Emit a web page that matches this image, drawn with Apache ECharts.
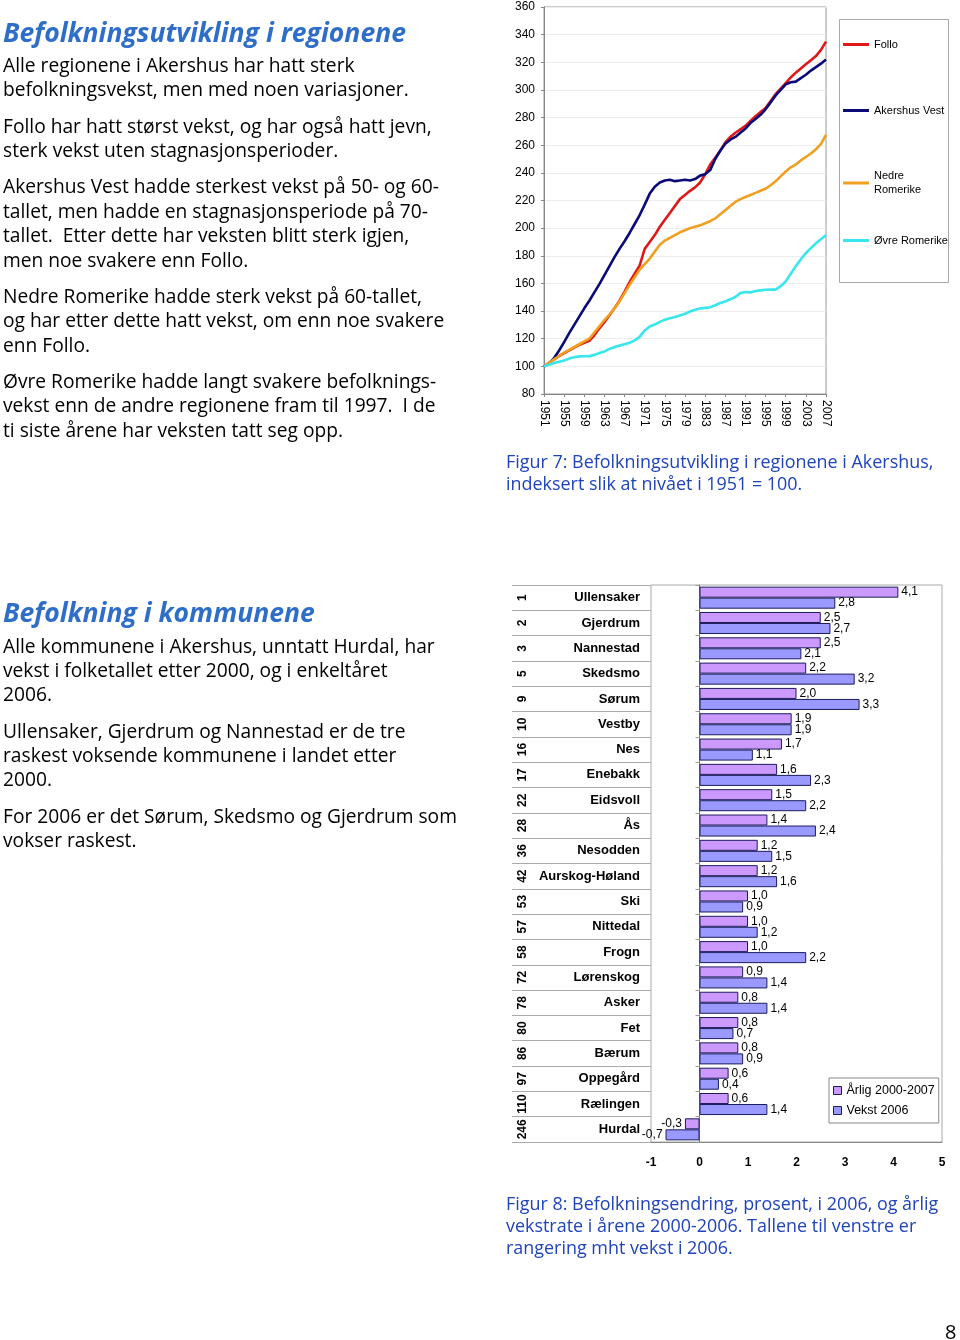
<!DOCTYPE html>
<html><head><meta charset="utf-8">
<script src="https://cdn.jsdelivr.net/npm/echarts@6/dist/echarts.min.js"></script>
<style>
html,body{margin:0;padding:0;background:#fff;}
#page{position:relative;width:960px;height:1340px;overflow:hidden;}
#chart{position:absolute;left:0;top:0;width:960px;height:1340px;}
.t{position:absolute;white-space:pre;line-height:normal;z-index:2;}
</style></head>
<body><div id="page"><div id="chart"></div></div>
<script>
// ---------- Figure 7 data ----------
const years = ["1951","1952","1953","1954","1955","1956","1957","1958","1959","1960",
"1961","1962","1963","1964","1965","1966","1967","1968","1969","1970",
"1971","1972","1973","1974","1975","1976","1977","1978","1979","1980",
"1981","1982","1983","1984","1985","1986","1987","1988","1989","1990",
"1991","1992","1993","1994","1995","1996","1997","1998","1999","2000",
"2001","2002","2003","2004","2005","2006","2007"];
const regionNames = ["Follo","Akershus Vest","Nedre Romerike","Øvre Romerike"];
const follo = [100,102.5,105,107.5,109.5,111.5,113.5,115.5,117,118.5,
122.5,127.5,132,137,142,147.5,154,161,167,173,
185,190,195,201,206,211,216,221,224,227,
229.5,233,239,246,251,256,262,266,269,271.5,
274,277.5,281,284,287,292,297,301,305,309,
312.5,315.5,318.5,321.5,324.5,329,335];
const akershusVest = [100,102,106,111.5,117.5,124,130,136,142,147.5,
153.5,159.5,166,172.5,179,185,190.5,196.5,203,209.5,
217,225,230,233,234.5,235,234,234.5,235,234.5,
235.5,238,239,242,250,256,261,264,266,269,
272,276,279,282,286,291,296,300,304,305.5,
306,308.5,311,314,316.5,319,322];
const nedreRomerike = [100,102.5,105,107.5,110,112,114,116,118,120,
124.5,129,133.5,137.5,142,147,153,159,164.5,170,
174,178,183,188,191,193,195,197,198.5,200,
201,202,203.5,205,207,210,213,216,219,221,
222.5,224,225.5,227,228.5,231,234,237.5,241,244,
246,249,251.5,254,257,261,267.5];
const ovreRomerike = [100,101.2,102.4,103.3,104.3,105.6,106.6,107.2,107.3,107.4,
108.3,109.6,110.8,112.6,114,115,116,117,118.8,121.3,
126,128.8,130.3,132.2,133.8,134.8,135.7,136.8,138,139.7,
141,141.8,142.3,142.8,144.2,145.8,147,148.5,150.2,153,
153.8,153.5,154.5,155,155.4,155.6,155.5,158,161.5,167,
172.5,177.5,182,185.5,189,192,195];

// ---------- Figure 8 data ----------
const kommuner = ["Ullensaker","Gjerdrum","Nannestad","Skedsmo","Sørum","Vestby","Nes","Enebakk","Eidsvoll","Ås","Nesodden","Aurskog-Høland","Ski","Nittedal","Frogn","Lørenskog","Asker","Fet","Bærum","Oppegård","Rælingen","Hurdal"];
const rangering = ["1","2","3","5","9","10","16","17","22","28","36","42","53","57","58","72","78","80","86","97","110","246"];
const aarlig = [4.1,2.5,2.5,2.2,2.0,1.9,1.7,1.6,1.5,1.4,1.2,1.2,1.0,1.0,1.0,0.9,0.8,0.8,0.8,0.6,0.6,-0.3];
const vekst2006 = [2.8,2.7,2.1,3.2,3.3,1.9,1.1,2.3,2.2,2.4,1.5,1.6,0.9,1.2,2.2,1.4,1.4,0.7,0.9,0.4,1.4,-0.7];
const barSeriesNames = ["Årlig 2000-2007","Vekst 2006"];

// ---------- Text ----------
const BODY = '"Open Sans", sans-serif';
const intro = [
 ["Alle regionene i Akershus har hatt sterk",72],
 ["befolkningsvekst, men med noen variasjoner.",96],
 ["Follo har hatt størst vekst, og har også hatt jevn,",133],
 ["sterk vekst uten stagnasjonsperioder.",157],
 ["Akershus Vest hadde sterkest vekst på 50- og 60-",193],
 ["tallet, men hadde en stagnasjonsperiode på 70-",218],
 ["tallet.  Etter dette har veksten blitt sterk igjen,",242],
 ["men noe svakere enn Follo.",267],
 ["Nedre Romerike hadde sterk vekst på 60-tallet,",303],
 ["og har etter dette hatt vekst, om enn noe svakere",327],
 ["enn Follo.",352],
 ["Øvre Romerike hadde langt svakere befolknings-",388],
 ["vekst enn de andre regionene fram til 1997.  I de",412],
 ["ti siste årene har veksten tatt seg opp.",437],
 ["Alle kommunene i Akershus, unntatt Hurdal, har",653],
 ["vekst i folketallet etter 2000, og i enkeltåret",677],
 ["2006.",701],
 ["Ullensaker, Gjerdrum og Nannestad er de tre",738],
 ["raskest voksende kommunene i landet etter",762],
 ["2000.",786],
 ["For 2006 er det Sørum, Skedsmo og Gjerdrum som",823],
 ["vokser raskest.",847]
];
const titles = [["Befolkningsutvikling i regionene",42],["Befolkning i kommunene",622]];
const captions = [
 ["Figur 7: Befolkningsutvikling i regionene i Akershus,",468],
 ["indeksert slik at nivået i 1951 = 100.",490],
 ["Figur 8: Befolkningsendring, prosent, i 2006, og årlig",1210],
 ["vekstrate i årene 2000-2006. Tallene til venstre er",1232],
 ["rangering mht vekst i 2006.",1254]
];

const ctx = document.createElement('canvas').getContext('2d');
function fitSize(samples, family, weight, style){
  ctx.font = style+' '+weight+' 100px '+family;
  let m=0,t=0; samples.forEach(s=>{m+=ctx.measureText(s[0]).width;t+=s[1];});
  return 100*t/m;
}
function place(text,x,baseline,size,family,weight,style,color){
  ctx.font = style+' '+weight+' '+size+'px '+family;
  const mt = ctx.measureText(text);
  const asc = mt.fontBoundingBoxAscent || size*0.95;
  const d=document.createElement('div'); d.className='t'; d.textContent=text;
  d.style.cssText += 'left:'+x+'px;top:'+(baseline-asc)+'px;font-size:'+size+'px;font-family:'+family+';font-weight:'+weight+';font-style:'+style+';color:'+color+';';
  document.getElementById('page').appendChild(d);
}
const bodySize = fitSize([["Alle regionene i Akershus har hatt sterk",355],["og har etter dette hatt vekst, om enn noe svakere",448],["For 2006 er det Sørum, Skedsmo og Gjerdrum som",450],["Alle kommunene i Akershus, unntatt Hurdal, har",427]],BODY,'normal','normal');
intro.forEach(l=>place(l[0],3,l[1],bodySize,BODY,'normal','normal','#000'));
const titleSize = fitSize([["Befolkningsutvikling i regionene",405],["Befolkning i kommunene",310]],BODY,'bold','italic');
titles.forEach(l=>place(l[0],3,l[1],titleSize,BODY,'bold','italic','#2e6ec8'));
const capSize = fitSize([["Figur 7: Befolkningsutvikling i regionene i Akershus,",424],["Figur 8: Befolkningsendring, prosent, i 2006, og årlig",429],["vekstrate i årene 2000-2006. Tallene til venstre er",418]],BODY,'normal','normal');
captions.forEach(l=>place(l[0],506,l[1],capSize,BODY,'normal','normal','#1f44b8'));
place("8",945,1339,20,BODY,'normal','normal','#000');

// ---------- Chart ----------
const FONT = '"Liberation Sans", Arial, sans-serif';
const lineColors = ['#e01818','#0a0a78','#f0a020','#38e6ee'];
const lineData = [follo, akershusVest, nedreRomerike, ovreRomerike];
const legendTops = [37.5,103.5,169,233.5];
const fmt = v => (Math.abs(v)).toFixed(1).replace('.',',').replace(/^/, v<0?'-':'');
function barData(arr){ return arr.map(v => v<0 ? {value:v,label:{position:'left'}} : v); }

const chart = echarts.init(document.getElementById('chart'), null, {renderer:'canvas'});
chart.setOption({
  animation:false,
  textStyle:{fontFamily:FONT},
  grid:[
    {left:544, top:7, width:282, height:387, show:true, borderColor:'#999', borderWidth:1},
    {left:651, top:585, width:291, height:557, show:true, borderColor:'#aaa', borderWidth:1},
    {left:512, top:585, width:139, height:557, show:false}
  ],
  legend: regionNames.map((n,i)=>({
    data:[n], orient:'vertical', left:843, top:legendTops[i], padding:0,
    icon:'rect', itemWidth:26, itemHeight:3, selectedMode:false,
    formatter: name => name==='Nedre Romerike' ? 'Nedre\nRomerike' : name,
    textStyle:{fontSize:11, color:'#000', fontFamily:FONT, lineHeight:14}
  })).concat([{
    data:barSeriesNames, orient:'vertical', left:829, top:1078, padding:[6,4,6,4],
    icon:'rect', itemWidth:8, itemHeight:8, itemGap:7, itemStyle:{borderWidth:1}, selectedMode:false,
    borderColor:'#888', borderWidth:1,
    textStyle:{fontSize:12.5, color:'#000', fontFamily:FONT}
  }]),
  graphic:[{type:'rect', shape:{x:839.5,y:19.5,width:109,height:263}, style:{fill:'none',stroke:'#aaa',lineWidth:1}, silent:true}],
  xAxis:[
    {gridIndex:0, type:'category', data:years, boundaryGap:false,
     axisLine:{lineStyle:{color:'#888'}}, axisTick:{show:true, interval:3, length:3, lineStyle:{color:'#888'}},
     axisLabel:{interval:3, rotate:-90, margin:6, fontSize:12, color:'#000', fontFamily:FONT}, splitLine:{show:false}},
    {gridIndex:1, type:'value', min:-1, max:5, interval:1,
     axisLine:{show:true, lineStyle:{color:'#888'}}, axisTick:{show:false},
     axisLabel:{fontSize:12, fontWeight:'bold', color:'#000', margin:15, fontFamily:FONT}, splitLine:{show:false}},
    {gridIndex:2, type:'value', show:false}
  ],
  yAxis:[
    {gridIndex:0, type:'value', min:80, max:360, interval:20,
     axisLine:{show:true, lineStyle:{color:'#888'}}, axisTick:{show:true, length:3, lineStyle:{color:'#888'}},
     axisLabel:{fontSize:12, color:'#000', margin:9, fontFamily:FONT}, splitLine:{lineStyle:{color:'#ececec'}}},
    {gridIndex:1, type:'category', data:kommuner, inverse:true, position:'left',
     axisLine:{show:true, lineStyle:{color:'#777'}},
     axisTick:{show:true, interval:0, length:4, lineStyle:{color:'#999'}},
     axisLabel:{interval:0, fontSize:13, fontWeight:'bold', color:'#000', margin:11, fontFamily:FONT}},
    {gridIndex:1, type:'category', data:rangering, inverse:true, position:'left',
     axisLine:{show:false}, axisTick:{show:false},
     axisLabel:{interval:0, rotate:90, margin:128, align:'center', verticalAlign:'middle', fontSize:12, fontWeight:'bold', color:'#000', fontFamily:FONT}},
    {gridIndex:2, type:'category', data:rangering, inverse:true,
     axisLine:{show:false}, axisTick:{show:false}, axisLabel:{show:false},
     splitLine:{show:true, interval:0, lineStyle:{color:'#aaa', width:1}}}
  ],
  series: regionNames.map((n,i)=>({
    name:n, type:'line', xAxisIndex:0, yAxisIndex:0, data:lineData[i], symbol:'none',
    lineStyle:{width:2.6, color:lineColors[i]}, itemStyle:{color:lineColors[i]}
  })).concat([
    {name:barSeriesNames[0], type:'bar', xAxisIndex:1, yAxisIndex:1, data:barData(aarlig),
     barGap:'0%', barCategoryGap:'13%',
     itemStyle:{color:'#cc99ff', borderColor:'#1c1c5c', borderWidth:1},
     label:{show:true, position:'right', distance:3, fontSize:12, color:'#000', fontFamily:FONT, formatter:p=>fmt(p.value)}},
    {name:barSeriesNames[1], type:'bar', xAxisIndex:1, yAxisIndex:1, data:barData(vekst2006),
     barGap:'0%', barCategoryGap:'13%',
     itemStyle:{color:'#9999ff', borderColor:'#1c1c5c', borderWidth:1},
     label:{show:true, position:'right', distance:3, fontSize:12, color:'#000', fontFamily:FONT, formatter:p=>fmt(p.value)}}
  ])
});
</script>
</body></html>
